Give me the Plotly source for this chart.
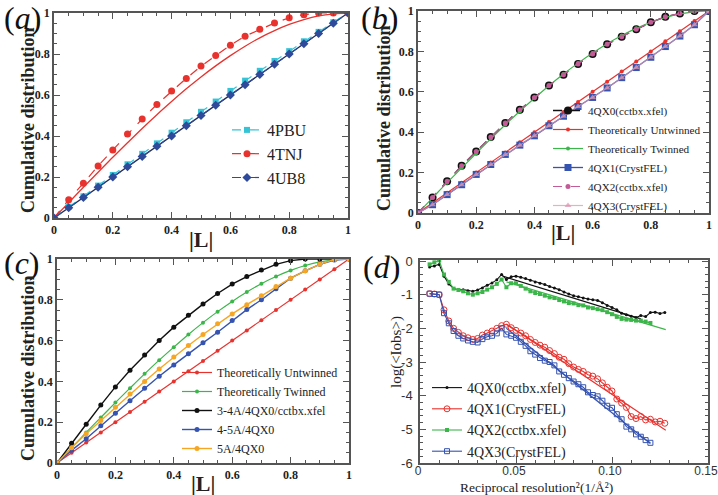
import plotly.graph_objects as go

W, H = 718, 495

# ---------------- data ----------------
L_grid = [0.0, 0.05, 0.10, 0.15, 0.20, 0.25, 0.30, 0.35, 0.40, 0.45, 0.50,
          0.55, 0.60, 0.65, 0.70, 0.75, 0.80, 0.85, 0.90, 0.95, 1.0]

theory_untwinned = [0.0, 0.05, 0.10, 0.15, 0.20, 0.25, 0.30, 0.35, 0.40, 0.45, 0.50,
                    0.55, 0.60, 0.65, 0.70, 0.75, 0.80, 0.85, 0.90, 0.95, 1.0]
theory_twinned = [0.0, 0.075, 0.150, 0.223, 0.296, 0.367, 0.437, 0.504, 0.568, 0.630, 0.688,
                  0.742, 0.792, 0.838, 0.879, 0.914, 0.944, 0.968, 0.986, 0.996, 1.0]

# panel (a)
a_4PBU = [0.0, 0.055, 0.106, 0.158, 0.210, 0.262, 0.313, 0.364, 0.416, 0.467, 0.518,
          0.568, 0.620, 0.670, 0.718, 0.766, 0.814, 0.862, 0.908, 0.955, 1.0]
a_4TNJ = [0.0, 0.089, 0.170, 0.254, 0.332, 0.410, 0.483, 0.554, 0.619, 0.681, 0.741,
          0.793, 0.843, 0.887, 0.921, 0.951, 0.977, 0.992, 1.0, 1.0, 1.0]
a_4UB8 = [0.0, 0.05, 0.10, 0.15, 0.20, 0.25, 0.30, 0.35, 0.40, 0.45, 0.50,
          0.55, 0.60, 0.65, 0.70, 0.75, 0.80, 0.85, 0.90, 0.95, 1.0]

# panel (b)
b_4QX0 = [0.0, 0.077, 0.157, 0.234, 0.305, 0.376, 0.445, 0.511, 0.572, 0.631, 0.684,
          0.738, 0.787, 0.835, 0.873, 0.910, 0.944, 0.972, 0.988, 1.0, 1.0]
b_4QX1 = [0.0, 0.041, 0.091, 0.140, 0.191, 0.240, 0.290, 0.336, 0.382, 0.432, 0.479,
          0.527, 0.572, 0.619, 0.670, 0.720, 0.771, 0.824, 0.876, 0.932, 1.0]
b_4QX2 = [0.0, 0.077, 0.157, 0.234, 0.305, 0.376, 0.445, 0.511, 0.572, 0.631, 0.684,
          0.738, 0.787, 0.835, 0.873, 0.910, 0.944, 0.972, 0.988, 1.0, 1.0]
b_4QX3 = [0.0, 0.041, 0.091, 0.140, 0.191, 0.240, 0.290, 0.336, 0.382, 0.432, 0.479,
          0.527, 0.572, 0.619, 0.670, 0.720, 0.771, 0.824, 0.876, 0.932, 1.0]

# panel (c)
c_34A = [0.0, 0.097, 0.190, 0.284, 0.373, 0.455, 0.529, 0.600, 0.666, 0.724, 0.779,
         0.831, 0.877, 0.914, 0.946, 0.974, 0.992, 1.0, 1.0, 1.0, 1.0]
c_45A = [0.0, 0.062, 0.119, 0.183, 0.244, 0.305, 0.367, 0.425, 0.481, 0.536, 0.589,
         0.641, 0.698, 0.752, 0.800, 0.854, 0.906, 0.942, 0.974, 0.995, 1.0]
c_5A = [0.0, 0.075, 0.143, 0.208, 0.273, 0.338, 0.399, 0.461, 0.519, 0.576, 0.630,
        0.682, 0.731, 0.776, 0.820, 0.865, 0.906, 0.942, 0.974, 0.998, 1.0]

# panel (d)
d_res2 = [0.005, 0.0075, 0.010, 0.0125, 0.015, 0.0175, 0.020, 0.0225, 0.025, 0.0275,
          0.030, 0.0325, 0.035, 0.0375, 0.040, 0.0425, 0.045, 0.0475, 0.050, 0.0525,
          0.055, 0.0575, 0.060, 0.0625, 0.065, 0.0675, 0.070, 0.0725, 0.075, 0.0775,
          0.080, 0.0825, 0.085, 0.0875, 0.090, 0.0925, 0.095, 0.0975, 0.100, 0.1025,
          0.105, 0.1075, 0.110, 0.1125, 0.115, 0.1175, 0.120, 0.1225, 0.125, 0.1275]
d_4QX0 = [-0.18, -0.15, -0.10, -0.45, -0.68, -0.82, -0.86, -0.85, -0.88, -0.90,
          -0.86, -0.80, -0.72, -0.65, -0.56, -0.40, -0.55, -0.47, -0.45, -0.48,
          -0.52, -0.57, -0.62, -0.66, -0.70, -0.76, -0.80, -0.85, -0.92, -0.98,
          -1.03, -1.06, -1.10, -1.13, -1.15, -1.17, -1.24, -1.32, -1.38, -1.45,
          -1.55, -1.60, -1.64, -1.68, -1.62, -1.65, -1.53, -1.52, -1.56, -1.53]
d_4QX1 = [-0.97, -0.98, -1.00, -1.45, -1.78, -2.00, -2.12, -2.22, -2.28, -2.33,
          -2.30, -2.20, -2.14, -2.08, -2.00, -1.92, -1.88, -1.98, -2.06, -2.14,
          -2.22, -2.33, -2.42, -2.50, -2.56, -2.66, -2.75, -2.86, -2.92, -3.05,
          -3.15, -3.22, -3.28, -3.38, -3.42, -3.50, -3.62, -3.75, -3.86, -4.10,
          -4.22, -4.35, -4.62, -4.68, -4.62, -4.72, -4.70, -4.78, -4.76, -4.82]
d_4QX2 = [-0.10, -0.04, 0.02, -0.40, -0.62, -0.82, -0.86, -0.90, -0.96, -1.00,
          -0.96, -0.92, -0.85, -0.78, -0.68, -0.55, -0.78, -0.66, -0.66, -0.74,
          -0.82, -0.90, -0.95, -0.98, -1.03, -1.08, -1.10, -1.16, -1.20, -1.25,
          -1.26, -1.31, -1.32, -1.38, -1.40, -1.43, -1.46, -1.52, -1.58, -1.66,
          -1.72, -1.74, -1.75, -1.77, -1.77, -1.80, -1.84, None, None, None]
d_4QX3 = [-0.97, -0.98, -1.00, -1.55, -1.85, -2.08, -2.22, -2.30, -2.36, -2.40,
          -2.42, -2.32, -2.25, -2.22, -2.15, -2.00, -2.18, -2.22, -2.28, -2.40,
          -2.52, -2.68, -2.78, -2.88, -2.96, -3.00, -3.10, -3.28, -3.38, -3.48,
          -3.58, -3.66, -3.75, -3.90, -3.98, -4.02, -4.15, -4.30, -4.36, -4.55,
          -4.70, -4.92, -5.00, -5.15, -5.22, -5.32, -5.40, None, None, None]

# linear fits drawn in panel (d): [start, end]
fit_4QX0_x = [0.043, 0.115]
fit_4QX0_y = [-0.45, -1.72]
fit_4QX1_x = [0.045, 0.128]
fit_4QX1_y = [-1.87, -5.03]
fit_4QX2_x = [0.045, 0.128]
fit_4QX2_y = [-0.62, -2.04]
fit_4QX3_x = [0.045, 0.120]
fit_4QX3_y = [-2.00, -5.42]

cdf_ticks = [0, 0.2, 0.4, 0.6, 0.8, 1.0]
cdf_ticktext = ["0", "0.2", "0.4", "0.6", "0.8", "1"]
d_xticks = [0, 0.05, 0.10, 0.15]
d_xticktext = ["0", "0.05", "0.10", "0.15"]
d_yticks = [0, -1, -2, -3, -4, -5, -6]
d_yticktext = ["0", "-1", "-2", "-3", "-4", "-5", "-6"]

# ---------------- styling ----------------
SERIF = "Liberation Serif"
SANS = "Liberation Sans"

RED = "#e8322e"
GREEN = "#3cb54a"
NAVY = "#2f4a9a"
CYAN = "#35c3d6"
BLACK = "#111111"
BLUE = "#3553b0"
ORANGE = "#f6a623"
PINK = "#c45a98"
LPINK = "rgba(222,150,175,0.75)"


def px_x(p):
    return p / W


def px_y(p):
    return 1 - p / H


fig = go.Figure()

# ---- panel (a)
fig.add_trace(go.Scatter(x=L_grid, y=theory_untwinned, mode="lines", xaxis="x", yaxis="y",
                         line=dict(color="#1d2a55", width=1.3), showlegend=False, hoverinfo="skip"))
fig.add_trace(go.Scatter(x=L_grid, y=theory_twinned, mode="lines", xaxis="x", yaxis="y",
                         line=dict(color=RED, width=1.3, shape="spline"), showlegend=False,
                         hoverinfo="skip"))
fig.add_trace(go.Scatter(x=L_grid, y=a_4PBU, mode="lines+markers", name="4PBU", xaxis="x", yaxis="y",
                         line=dict(color=CYAN, width=1.2, dash="dash"),
                         marker=dict(symbol="square", size=6, color=CYAN), legend="legend"))
fig.add_trace(go.Scatter(x=L_grid, y=a_4TNJ, mode="lines+markers", name="4TNJ", xaxis="x", yaxis="y",
                         line=dict(color=RED, width=1.2, dash="dash"),
                         marker=dict(symbol="circle", size=7, color=RED), legend="legend"))
fig.add_trace(go.Scatter(x=L_grid, y=a_4UB8, mode="lines+markers", name="4UB8", xaxis="x", yaxis="y",
                         line=dict(color=NAVY, width=1.2, dash="dash"),
                         marker=dict(symbol="diamond", size=7, color=NAVY), legend="legend"))

# ---- panel (b)
fig.add_trace(go.Scatter(x=L_grid, y=b_4QX0, mode="lines+markers", name="4QX0(cctbx.xfel)",
                         xaxis="x2", yaxis="y2", line=dict(color=BLACK, width=1.3, dash="dash"),
                         marker=dict(symbol="circle", size=8, color=BLACK), legend="legend2"))
fig.add_trace(go.Scatter(x=L_grid, y=theory_untwinned, mode="lines+markers", name="Theoretically Untwinned",
                         xaxis="x2", yaxis="y2", line=dict(color=RED, width=1.2),
                         marker=dict(symbol="circle", size=4, color=RED), legend="legend2"))
fig.add_trace(go.Scatter(x=L_grid, y=theory_twinned, mode="lines+markers", name="Theoretically Twinned",
                         xaxis="x2", yaxis="y2", line=dict(color=GREEN, width=1.2, shape="spline"),
                         marker=dict(symbol="circle", size=4, color=GREEN), legend="legend2"))
fig.add_trace(go.Scatter(x=L_grid, y=b_4QX1, mode="lines+markers", name="4QX1(CrystFEL)",
                         xaxis="x2", yaxis="y2", line=dict(color=BLUE, width=1.3),
                         marker=dict(symbol="square", size=7, color=BLUE), legend="legend2"))
fig.add_trace(go.Scatter(x=L_grid, y=b_4QX2, mode="lines+markers", name="4QX2(cctbx.xfel)",
                         xaxis="x2", yaxis="y2", line=dict(color=PINK, width=1.2, dash="dash"),
                         marker=dict(symbol="circle", size=5, color=PINK), legend="legend2"))
fig.add_trace(go.Scatter(x=L_grid, y=b_4QX3, mode="lines+markers", name="4QX3(CrystFEL)",
                         xaxis="x2", yaxis="y2", line=dict(color=LPINK, width=1.2),
                         marker=dict(symbol="triangle-up", size=6, color=LPINK), legend="legend2"))

# ---- panel (c)
fig.add_trace(go.Scatter(x=L_grid, y=theory_untwinned, mode="lines+markers", name="Theoretically Untwinned",
                         xaxis="x3", yaxis="y3", line=dict(color=RED, width=1.2),
                         marker=dict(symbol="circle", size=4, color=RED), legend="legend3"))
fig.add_trace(go.Scatter(x=L_grid, y=theory_twinned, mode="lines+markers", name="Theoretically Twinned",
                         xaxis="x3", yaxis="y3", line=dict(color=GREEN, width=1.2, shape="spline"),
                         marker=dict(symbol="circle", size=4, color=GREEN), legend="legend3"))
fig.add_trace(go.Scatter(x=L_grid, y=c_34A, mode="lines+markers", name="3-4A/4QX0/cctbx.xfel",
                         xaxis="x3", yaxis="y3", line=dict(color=BLACK, width=1.4),
                         marker=dict(symbol="circle", size=5, color=BLACK), legend="legend3"))
fig.add_trace(go.Scatter(x=L_grid, y=c_45A, mode="lines+markers", name="4-5A/4QX0",
                         xaxis="x3", yaxis="y3", line=dict(color=BLUE, width=1.4),
                         marker=dict(symbol="circle", size=5, color=BLUE), legend="legend3"))
fig.add_trace(go.Scatter(x=L_grid, y=c_5A, mode="lines+markers", name="5A/4QX0",
                         xaxis="x3", yaxis="y3", line=dict(color=ORANGE, width=1.4),
                         marker=dict(symbol="circle", size=5, color=ORANGE), legend="legend3"))

# ---- panel (d)
fig.add_trace(go.Scatter(x=fit_4QX0_x, y=fit_4QX0_y, mode="lines", xaxis="x4", yaxis="y4",
                         line=dict(color=BLACK, width=1.2), showlegend=False, hoverinfo="skip"))
fig.add_trace(go.Scatter(x=fit_4QX1_x, y=fit_4QX1_y, mode="lines", xaxis="x4", yaxis="y4",
                         line=dict(color=RED, width=1.2), showlegend=False, hoverinfo="skip"))
fig.add_trace(go.Scatter(x=fit_4QX2_x, y=fit_4QX2_y, mode="lines", xaxis="x4", yaxis="y4",
                         line=dict(color=GREEN, width=1.2), showlegend=False, hoverinfo="skip"))
fig.add_trace(go.Scatter(x=fit_4QX3_x, y=fit_4QX3_y, mode="lines", xaxis="x4", yaxis="y4",
                         line=dict(color=BLUE, width=1.2), showlegend=False, hoverinfo="skip"))
fig.add_trace(go.Scatter(x=d_res2, y=d_4QX0, mode="lines+markers", name="4QX0(cctbx.xfel)",
                         xaxis="x4", yaxis="y4", line=dict(color=BLACK, width=1.1),
                         marker=dict(symbol="circle", size=3, color=BLACK), legend="legend4"))
fig.add_trace(go.Scatter(x=d_res2, y=d_4QX1, mode="lines+markers", name="4QX1(CrystFEL)",
                         xaxis="x4", yaxis="y4", line=dict(color=RED, width=1.1),
                         marker=dict(symbol="circle-open", size=6, color=RED, line=dict(width=1)),
                         legend="legend4"))
fig.add_trace(go.Scatter(x=d_res2, y=d_4QX2, mode="lines+markers", name="4QX2(cctbx.xfel)",
                         xaxis="x4", yaxis="y4", line=dict(color=GREEN, width=1.1),
                         marker=dict(symbol="square", size=4, color=GREEN), legend="legend4"))
fig.add_trace(go.Scatter(x=d_res2, y=d_4QX3, mode="lines+markers", name="4QX3(CrystFEL)",
                         xaxis="x4", yaxis="y4", line=dict(color=BLUE, width=1.1),
                         marker=dict(symbol="square-open", size=5, color=BLUE, line=dict(width=1)),
                         legend="legend4"))

# ---------------- axes ----------------
tick_bold = dict(family=SERIF, size=12, color="#222", weight="bold")
frame = dict(showline=True, linecolor="#555", linewidth=1.5, mirror="allticks", ticks="inside",
             ticklen=6, tickcolor="#555", showgrid=False, zeroline=False, automargin=False,
             ticklabeloverflow="allow")


def cdf_axis(dom, anchor):
    return dict(domain=dom, anchor=anchor, range=[0, 1], tickvals=cdf_ticks, ticktext=cdf_ticktext,
                tickfont=tick_bold,
                minor=dict(ticks="inside", ticklen=3, dtick=0.05, tick0=0, tickcolor="#555"),
                **frame)


layout = dict(
    width=W, height=H, autosize=False,
    margin=dict(l=0, r=0, t=0, b=0),
    paper_bgcolor="white", plot_bgcolor="white",
    xaxis=cdf_axis([px_x(54), px_x(348)], "y"),
    yaxis=cdf_axis([px_y(218), px_y(13)], "x"),
    xaxis2=cdf_axis([px_x(418), px_x(709)], "y2"),
    yaxis2=cdf_axis([px_y(213), px_y(11)], "x2"),
    xaxis3=cdf_axis([px_x(57), px_x(349)], "y3"),
    yaxis3=cdf_axis([px_y(463), px_y(259)], "x3"),
    xaxis4=dict(domain=[px_x(420), px_x(708)], anchor="y4", range=[0, 0.15],
                tickvals=d_xticks, ticktext=d_xticktext, ticklabelshift=-2, ticklabelstandoff=-4,
                tickfont=dict(family=SANS, size=12, color="#333"),
                minor=dict(ticks="inside", ticklen=3, dtick=0.01, tick0=0, tickcolor="#555"),
                **frame),
    yaxis4=dict(domain=[px_y(463), px_y(260)], anchor="x4", range=[-6, 0.03],
                tickvals=d_yticks, ticktext=d_yticktext, ticklabelstandoff=3,
                tickfont=dict(family=SANS, size=13, color="#333"),
                minor=dict(ticks="inside", ticklen=3, dtick=0.2, tick0=0, tickcolor="#555"),
                **frame),
    legend=dict(x=px_x(227), y=px_y(113), xanchor="left", yanchor="top",
                font=dict(family=SERIF, size=16, color="#222"), bgcolor="rgba(0,0,0,0)"),
    legend2=dict(x=px_x(548), y=px_y(96), xanchor="left", yanchor="top",
                 font=dict(family=SERIF, size=11.2, color="#222"), bgcolor="rgba(0,0,0,0)"),
    legend3=dict(x=px_x(177), y=px_y(358), xanchor="left", yanchor="top",
                 font=dict(family=SERIF, size=12, color="#222"), bgcolor="rgba(0,0,0,0)"),
    legend4=dict(x=px_x(427), y=px_y(372), xanchor="left", yanchor="top",
                 font=dict(family=SERIF, size=14, color="#222"), bgcolor="rgba(0,0,0,0)"),
    showlegend=True,
)

ann = []
# panel labels
for t, xp, yp in [("(<i>a</i>)", 22, 18), ("(<i>b</i>)", 379, 18),
                  ("(<i>c</i>)", 22, 263), ("(<i>d</i>)", 381, 267)]:
    ann.append(dict(text=t, x=px_x(xp), y=px_y(yp), xref="paper", yref="paper", showarrow=False,
                    xanchor="center", yanchor="middle", font=dict(family=SERIF, size=32, color="#111")))

# axis titles
title_bold_y = dict(family=SERIF, size=18, color="#222", weight="bold")
title_bold_x = dict(family=SERIF, size=22, color="#222", weight="bold")
for xp, yp in [(28, 120), (384, 118), (28, 368)]:
    ann.append(dict(text="Cumulative distribution", x=px_x(xp), y=px_y(yp), xref="paper", yref="paper",
                    showarrow=False, textangle=-90, xanchor="center", yanchor="middle", font=title_bold_y))
for xp, yp in [(201, 239), (563, 233), (203, 483)]:
    ann.append(dict(text="|L|", x=px_x(xp), y=px_y(yp), xref="paper", yref="paper",
                    showarrow=False, xanchor="center", yanchor="middle", font=title_bold_x))
ann.append(dict(text="log(&lt;Iobs&gt;)", x=px_x(396), y=px_y(352), xref="paper", yref="paper",
                showarrow=False, textangle=-90, xanchor="center", yanchor="middle",
                font=dict(family=SERIF, size=15, color="#222")))
ann.append(dict(text="Reciprocal resolution²(1/Å²)", x=px_x(536), y=px_y(487), xref="paper", yref="paper",
                showarrow=False, xanchor="center", yanchor="middle",
                font=dict(family=SERIF, size=13.5, color="#222")))
layout["annotations"] = ann

fig.update_layout(**layout)
fig.write_html("out.html", config={"displayModeBar": False},
               post_script="document.body.style.margin='0';document.body.style.overflow='hidden';")
